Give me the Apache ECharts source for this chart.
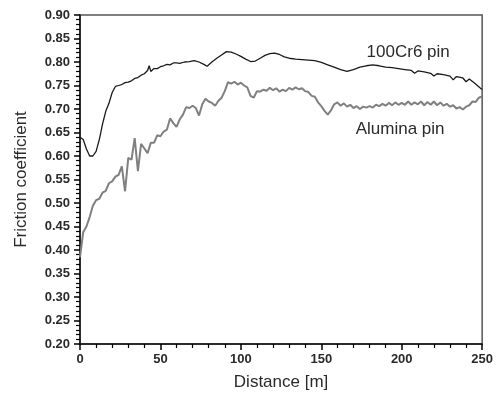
<!DOCTYPE html>
<html>
<head>
<meta charset="utf-8">
<script src="https://cdn.jsdelivr.net/npm/echarts@6/dist/echarts.min.js"></script>
<style>
  html, body { margin: 0; padding: 0; background: #fff; }
  #chart { width: 496px; height: 396px; }
</style>
</head>
<body>
<div id="chart"></div>
<script>
// 100Cr6 pin (black curve)
const steelDistance = [
  0, 2, 4, 6, 8, 10, 12, 14, 16, 18,
  20, 22, 24, 26, 28, 30, 32, 34, 36, 38,
  40, 42, 43, 44, 46, 48, 50, 52, 54, 56,
  58, 60, 62, 65, 68, 71, 74, 77, 79, 82,
  85, 88, 91, 94, 97, 100, 103, 106, 109, 112,
  115, 118, 121, 124, 127, 130, 134, 138, 142, 146,
  150, 154, 158, 162, 166, 170, 174, 178, 182, 186,
  190, 194, 198, 202, 206, 208, 210, 214, 218, 220,
  222, 226, 230, 232, 234, 238, 240, 242, 245, 247,
  249, 250
]
const steelFriction = [
  0.640, 0.635, 0.615, 0.600, 0.600, 0.610, 0.635, 0.668, 0.695, 0.712,
  0.735, 0.748, 0.750, 0.752, 0.756, 0.757, 0.760, 0.765, 0.767, 0.772,
  0.775, 0.782, 0.792, 0.780, 0.786, 0.786, 0.790, 0.792, 0.795, 0.794,
  0.798, 0.798, 0.797, 0.800, 0.801, 0.803, 0.800, 0.795, 0.791, 0.800,
  0.808, 0.815, 0.822, 0.821, 0.817, 0.812, 0.806, 0.801, 0.802, 0.808,
  0.814, 0.818, 0.819, 0.816, 0.811, 0.808, 0.806, 0.805, 0.804, 0.803,
  0.799, 0.794, 0.789, 0.784, 0.780, 0.784, 0.789, 0.792, 0.794, 0.792,
  0.789, 0.788, 0.786, 0.784, 0.782, 0.776, 0.781, 0.779, 0.776, 0.770,
  0.775, 0.773, 0.770, 0.762, 0.769, 0.766, 0.758, 0.764, 0.756, 0.750,
  0.744, 0.742
]

// Alumina pin (grey, noisy curve)
const aluminaDistance = [
  0, 2, 4, 6, 8, 10, 12, 14, 16, 18,
  20, 22, 24, 26, 28, 30, 32, 34, 36, 38,
  40, 42, 44, 46, 48, 50, 52, 54, 56, 58,
  60, 62, 64, 66, 68, 70, 72, 74, 76, 78,
  80, 82, 84, 86, 88, 90, 92, 94, 96, 98,
  100, 102, 104, 106, 108, 110, 112, 114, 116, 118,
  120, 122, 124, 126, 128, 130, 132, 134, 136, 138,
  140, 142, 144, 146, 148, 150, 152, 154, 156, 158,
  160, 162, 164, 166, 168, 170, 172, 174, 176, 178,
  180, 182, 184, 186, 188, 190, 192, 194, 196, 198,
  200, 202, 204, 206, 208, 210, 212, 214, 216, 218,
  220, 222, 224, 226, 228, 230, 232, 234, 236, 238,
  240, 242, 244, 246, 248, 250
]
const aluminaFriction = [
  0.385, 0.438, 0.450, 0.470, 0.494, 0.506, 0.509, 0.522, 0.526, 0.542,
  0.546, 0.556, 0.560, 0.578, 0.525, 0.596, 0.592, 0.638, 0.568, 0.626,
  0.616, 0.606, 0.628, 0.628, 0.644, 0.642, 0.652, 0.656, 0.680, 0.670,
  0.662, 0.678, 0.688, 0.704, 0.702, 0.707, 0.702, 0.686, 0.710, 0.722,
  0.716, 0.713, 0.707, 0.717, 0.724, 0.738, 0.757, 0.754, 0.758, 0.752,
  0.756, 0.750, 0.746, 0.728, 0.724, 0.738, 0.737, 0.741, 0.739, 0.745,
  0.740, 0.744, 0.737, 0.741, 0.738, 0.745, 0.741, 0.746, 0.742, 0.744,
  0.738, 0.736, 0.728, 0.726, 0.714, 0.706, 0.696, 0.688, 0.697, 0.710,
  0.714, 0.707, 0.712, 0.705, 0.709, 0.702, 0.706, 0.700, 0.705, 0.703,
  0.706, 0.703, 0.709, 0.706, 0.711, 0.707, 0.713, 0.708, 0.714, 0.709,
  0.713, 0.709, 0.716, 0.709, 0.714, 0.710, 0.716, 0.708, 0.715, 0.709,
  0.716, 0.708, 0.714, 0.707, 0.711, 0.705, 0.708, 0.701, 0.704, 0.699,
  0.705, 0.708, 0.716, 0.715, 0.724, 0.727
]

// curve labels, placed in data coordinates
const curveLabels = [
  { text: '100Cr6 pin', at: [204, 0.820] },
  { text: 'Alumina pin', at: [199, 0.656] },
]

const font = "'Liberation Sans', Arial, sans-serif"
const ink = '#2a2a2a'

const toPairs = (xs, ys) => xs.map((x, i) => [x, ys[i]])

function axisStyle() {
  return {
    axisLine: { show: true, lineStyle: { color: '#111', width: 1.5 } },
    axisTick: { show: true, length: 6, lineStyle: { color: '#000', width: 1.5 } },
    minorTick: { show: true, splitNumber: 5, length: 4, lineStyle: { color: '#000', width: 1.2 } },
    splitLine: { show: false },
    nameTextStyle: { color: ink, fontFamily: font, fontSize: 17 },
  }
}

const labelStyle = { color: ink, fontFamily: font, fontSize: 13, fontWeight: 'bold' }

const chart = echarts.init(document.getElementById('chart'))

chart.setOption({
  animation: false,
  backgroundColor: '#fff',
  grid: {
    left: 80, right: 12, top: 15, bottom: 51,
    show: true, borderColor: '#555', borderWidth: 1.5,
  },
  xAxis: {
    ...axisStyle(),
    type: 'value',
    min: 0, max: 250, interval: 50,
    name: 'Distance [m]',
    nameLocation: 'middle',
    nameGap: 30,
    axisLabel: { ...labelStyle, margin: 9 },
  },
  yAxis: {
    ...axisStyle(),
    type: 'value',
    min: 0.2, max: 0.9, interval: 0.05,
    name: 'Friction coefficient',
    nameLocation: 'middle',
    nameGap: 50,
    axisLabel: { ...labelStyle, margin: 10, formatter: (v) => v.toFixed(2) },
  },
  series: [
    {
      name: '100Cr6 pin',
      type: 'line',
      data: toPairs(steelDistance, steelFriction),
      showSymbol: false,
      lineStyle: { color: '#1a1a1a', width: 1.3 },
    },
    {
      name: 'Alumina pin',
      type: 'line',
      data: toPairs(aluminaDistance, aluminaFriction),
      showSymbol: false,
      lineStyle: { color: '#808080', width: 2 },
    },
  ],
})

chart.setOption({
  graphic: curveLabels.map((l) => {
    const [px, py] = chart.convertToPixel({ gridIndex: 0 }, l.at)
    return {
      type: 'text',
      x: px, y: py,
      style: {
        text: l.text, fill: ink, font: '17px ' + font,
        align: 'center', verticalAlign: 'middle',
      },
    }
  }),
})
</script>
</body>
</html>
